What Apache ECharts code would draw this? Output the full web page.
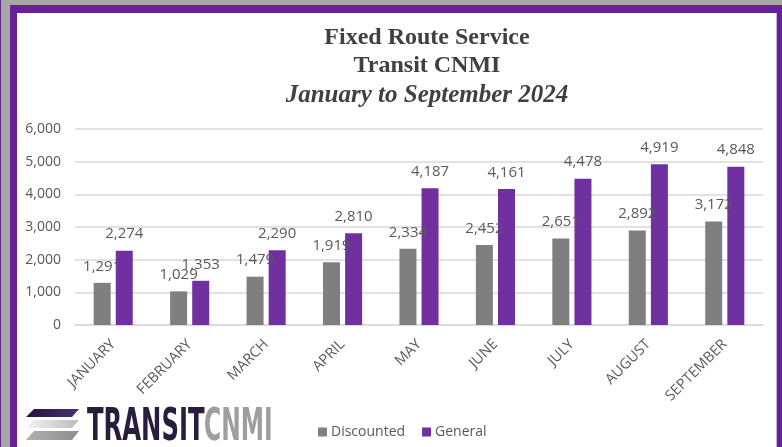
<!DOCTYPE html>
<html>
<head>
<meta charset="utf-8">
<script src="https://cdn.jsdelivr.net/npm/echarts@6/dist/echarts.min.js"></script>
<style>
html,body{margin:0;padding:0;background:#fff;}
#c{width:782px;height:447px;}
</style>
</head>
<body>
<div id="c"></div>
<script>
const months = ['JANUARY','FEBRUARY','MARCH','APRIL','MAY','JUNE','JULY','AUGUST','SEPTEMBER'];
const discounted = [1291, 1029, 1479, 1919, 2334, 2452, 2651, 2892, 3172];
const general = [2274, 1353, 2290, 2810, 4187, 4161, 4478, 4919, 4848];
const seriesNames = ['Discounted', 'General'];
const titleLines = ['Fixed Route Service', 'Transit CNMI', 'January to September 2024'];
const logoParts = ['TRANSIT', 'CNMI'];

const chart = echarts.init(document.getElementById('c'), null, {renderer: 'canvas'});
const fmt = v => Number(v).toLocaleString('en-US');
const lblFont = '"Open Sans", "Noto Sans", sans-serif';

const labelCfg = {
  show: true, position: 'top', distance: 9,
  color: '#595959', fontSize: 15, fontFamily: lblFont,
  formatter: p => fmt(p.value)
};

chart.setOption({
  animation: false,
  backgroundColor: '#ffffff',
  grid: {left: 75, right: 19, top: 129, bottom: 122, containLabel: false},
  legend: {
    data: seriesNames,
    left: 313, top: 420,
    itemWidth: 9, itemHeight: 9, itemGap: 17,
    icon: 'rect',
    textStyle: {color: '#595959', fontSize: 14, fontFamily: lblFont, padding: [0, 0, 0, -1]}
  },
  xAxis: {
    type: 'category', data: months,
    axisLine: {show: true, lineStyle: {color: '#d9d9d9', width: 1.5}},
    axisTick: {show: false},
    axisLabel: {rotate: 45, margin: 17, color: '#595959', fontSize: 14.5, fontFamily: lblFont, interval: 0}
  },
  yAxis: {
    type: 'value', min: 0, max: 6000, interval: 1000,
    axisLine: {show: false}, axisTick: {show: false},
    splitLine: {lineStyle: {color: '#d9d9d9', width: 1.5}},
    axisLabel: {margin: 14, color: '#595959', fontSize: 14, fontFamily: lblFont, formatter: v => fmt(v)}
  },
  series: [
    {name: seriesNames[0], type: 'bar', data: discounted, barWidth: 17, barGap: '30%',
     itemStyle: {color: '#7f7f7f'}, label: labelCfg},
    {name: seriesNames[1], type: 'bar', data: general, barWidth: 17,
     itemStyle: {color: '#7030a0'}, label: labelCfg}
  ],
  graphic: [
    // outer gray background & purple frame
    {type: 'rect', silent: true, shape: {x: 0, y: 0, width: 782, height: 5}, style: {fill: '#a6a6a6'}},
    {type: 'rect', silent: true, shape: {x: 0, y: 0, width: 10, height: 447}, style: {fill: '#a6a6a6'}},
    {type: 'rect', silent: true, shape: {x: 0, y: 0, width: 1, height: 447}, style: {fill: '#5c2a86'}},
    {type: 'rect', silent: true, shape: {x: 10, y: 5, width: 772, height: 8}, style: {fill: '#66219a'}},
    {type: 'rect', silent: true, shape: {x: 10, y: 5, width: 7, height: 442}, style: {fill: '#66219a'}},
    {type: 'rect', silent: true, shape: {x: 777, y: 5, width: 5, height: 442}, style: {fill: '#66219a'}},
    {type: 'rect', silent: true, shape: {x: 776, y: 13, width: 1, height: 434}, style: {fill: '#c9b3dc'}},
    // titles
    {type: 'text', silent: true, x: 427, y: 38, style: {text: titleLines[0], textAlign: 'center', textVerticalAlign: 'middle',
      font: 'bold 24px "Liberation Serif", "Times New Roman", serif', fill: '#404040'}},
    {type: 'text', silent: true, x: 427, y: 66, style: {text: titleLines[1], textAlign: 'center', textVerticalAlign: 'middle',
      font: 'bold 24px "Liberation Serif", "Times New Roman", serif', fill: '#404040'}},
    {type: 'text', silent: true, x: 427, y: 96, style: {text: titleLines[2], textAlign: 'center', textVerticalAlign: 'middle',
      font: 'italic bold 25px "Liberation Serif", "Times New Roman", serif', fill: '#404040'}},
    // logo stripes
    {type: 'polygon', silent: true, shape: {points: [[34,409],[79,409],[72,417],[26,417]]},
      style: {fill: new echarts.graphic.LinearGradient(0,0,1,0,[{offset:0,color:'#25163a'},{offset:1,color:'#4d2e78'}])}},
    {type: 'polygon', silent: true, shape: {points: [[34,420],[79,420],[72,428],[26,428]]},
      style: {fill: new echarts.graphic.LinearGradient(0,0,1,0,[{offset:0,color:'#f2f2f2'},{offset:1,color:'#bdbdbd'}])}},
    {type: 'polygon', silent: true, shape: {points: [[34,431],[79,431],[72,440],[26,440]]},
      style: {fill: new echarts.graphic.LinearGradient(0,0,1,0,[{offset:0,color:'#b0b0b0'},{offset:1,color:'#8e8e8e'}])}},
    // logo text
    {type: 'text', silent: true, x: 87, y: 428, scaleX: 0.54, style: {text: logoParts[0], textVerticalAlign: 'middle',
      font: 'bold 45px "DejaVu Sans", sans-serif', fill: '#2a1c3c'}},
    {type: 'text', silent: true, x: 204, y: 428, scaleX: 0.52, style: {text: logoParts[1], textVerticalAlign: 'middle',
      font: 'bold 45px "DejaVu Sans", sans-serif', fill: '#9e9e9e'}}
  ]
});
</script>
</body>
</html>
